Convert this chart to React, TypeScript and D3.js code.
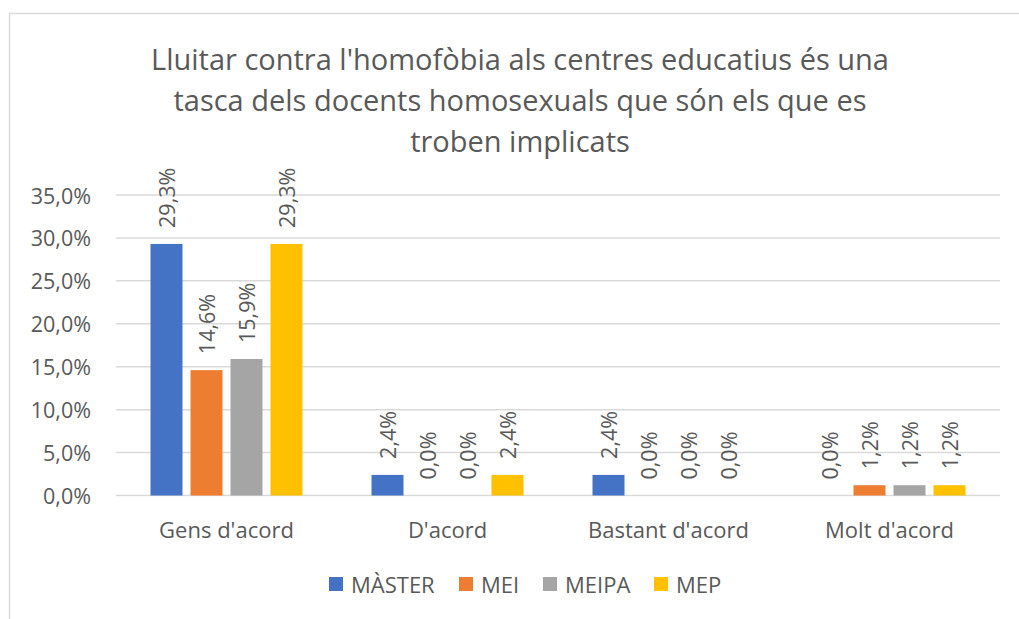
import * as d3 from "d3";

const categories = ["Gens d'acord", "D'acord", "Bastant d'acord", "Molt d'acord"];
const series = ["MÀSTER", "MEI", "MEIPA", "MEP"];
const master = [29.3, 2.4, 2.4, 0.0];
const mei = [14.6, 0.0, 0.0, 1.2];
const meipa = [15.9, 0.0, 0.0, 1.2];
const mep = [29.3, 2.4, 0.0, 1.2];
const yTicks = [0, 5, 10, 15, 20, 25, 30, 35];
const titleLines = [
  "Lluitar contra l'homofòbia als centres educatius és una",
  "tasca dels docents homosexuals que són els que es",
  "troben implicats",
];

const colors = ["#4472C4", "#ED7D31", "#A5A5A5", "#FFC000"];
const textColor = "#595959";
const gridColor = "#D9D9D9";
const font = "'Open Sans', sans-serif";

const width = 1019;
const height = 619;
const plot = { left: 116, right: 1000, top: 195, bottom: 495.5 };

const fmt = (v: number) => v.toFixed(1).replace(".", ",") + "%";

export default function App() {
  const values = [master, mei, meipa, mep];

  const x0 = d3.scaleBand<string>().domain(categories).range([plot.left, plot.right]).padding(0);
  const x1 = d3
    .scaleBand<string>()
    .domain(series)
    .range([0, x0.bandwidth()])
    .paddingInner(0.2)
    .paddingOuter(0.8625);
  const y = d3.scaleLinear().domain([0, 35]).range([plot.bottom, plot.top]);

  const legendX = [329, 459, 543, 654];

  return (
    <div style={{ position: "absolute", left: 0, top: 0 }}>
      <svg width={width} height={height} style={{ display: "block", fontFamily: font }}>
        <rect x={0} y={0} width={width} height={height} fill="#fff" />
        <rect x={9.5} y={13.5} width={width + 10} height={height + 10} fill="none" stroke={gridColor} strokeWidth={1.5} />

        {titleLines.map((t, i) => (
          <text key={i} x={520} y={70 + i * 41} textAnchor="middle" fontSize={29} fill={textColor}>
            {t}
          </text>
        ))}

        {yTicks.map((t) => (
          <g key={t}>
            <line x1={plot.left} x2={plot.right} y1={y(t)} y2={y(t)} stroke={gridColor} strokeWidth={1.5} />
            <text x={91} y={y(t)} textAnchor="end" dominantBaseline="central" fontSize={21.5} fill={textColor}>
              {fmt(t)}
            </text>
          </g>
        ))}

        {categories.map((c, ci) => (
          <g key={c} transform={`translate(${x0(c)},0)`}>
            {series.map((s, si) => {
              const v = values[si][ci];
              const bx = x1(s)!;
              const cx = bx + x1.bandwidth() / 2;
              const top = y(v);
              return (
                <g key={s}>
                  <rect x={bx} y={top} width={x1.bandwidth()} height={plot.bottom - top} fill={colors[si]} />
                  <text
                    transform={`translate(${cx},${top - 16}) rotate(-90)`}
                    dominantBaseline="central"
                    fontSize={21.5}
                    fill={textColor}
                  >
                    {fmt(v)}
                  </text>
                </g>
              );
            })}
            <text x={x0.bandwidth() / 2} y={529} textAnchor="middle" dominantBaseline="central" fontSize={22} fill={textColor}>
              {c}
            </text>
          </g>
        ))}

        {series.map((s, si) => (
          <g key={s} transform={`translate(${legendX[si]},584)`}>
            <rect x={0} y={-7} width={14} height={14} fill={colors[si]} />
            <text x={22} y={0} dominantBaseline="central" fontSize={22} fill={textColor}>
              {s}
            </text>
          </g>
        ))}
      </svg>
    </div>
  );
}
